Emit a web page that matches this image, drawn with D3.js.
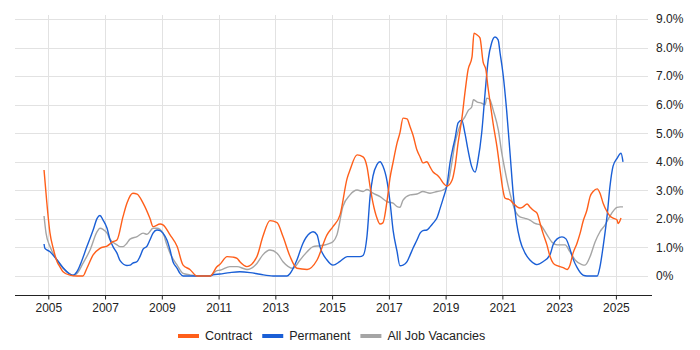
<!DOCTYPE html>
<html>
<head>
<meta charset="utf-8">
<script src="https://cdn.jsdelivr.net/npm/d3@7"></script>
<style>
  body { margin: 0; background: #fff; }
  svg { display: block; font-family: "Liberation Sans", Arial, sans-serif; }
</style>
</head>
<body>
<svg id="chart" width="700" height="350"></svg>
<script>
// rolling share of job ads, % by year (decimal years)
const contract = [[2004.85,3.71],[2004.94,2.66],[2005.06,1.5],[2005.17,0.98],[2005.31,0.5],[2005.41,0.32],[2005.52,0.15],[2005.76,0.03],[2006.01,0],[2006.22,0],[2006.36,0.27],[2006.58,0.74],[2006.82,0.97],[2007.07,1.05],[2007.28,1.2],[2007.42,1.26],[2007.63,2.07],[2007.77,2.55],[2007.98,2.9],[2008.13,2.87],[2008.34,2.55],[2008.58,2.02],[2008.69,1.73],[2008.94,1.82],[2009.04,1.79],[2009.29,1.44],[2009.54,1.03],[2009.75,0.38],[2009.99,0.23],[2010.24,0],[2010.70,0],[2010.94,0.32],[2011.05,0.41],[2011.30,0.68],[2011.51,0.66],[2011.65,0.62],[2011.75,0.5],[2012.00,0.33],[2012.35,0.68],[2012.56,1.38],[2012.81,1.94],[2013.06,1.87],[2013.27,1.38],[2013.52,0.68],[2013.76,0.27],[2014.12,0.23],[2014.47,0.56],[2014.82,1.44],[2015.03,1.73],[2015.28,2.14],[2015.53,3.42],[2015.63,3.71],[2015.88,4.24],[2016.09,4.17],[2016.23,3.82],[2016.34,3.12],[2016.44,2.56],[2016.58,2.03],[2016.69,1.82],[2016.79,1.86],[2016.94,2.66],[2017.04,3.43],[2017.15,3.99],[2017.29,4.66],[2017.39,5.01],[2017.50,5.53],[2017.64,5.5],[2017.75,5.22],[2017.85,4.94],[2017.99,4.41],[2018.10,4.17],[2018.20,3.96],[2018.34,4.0],[2018.45,3.82],[2018.56,3.64],[2018.70,3.54],[2018.80,3.43],[2018.91,3.26],[2019.05,3.15],[2019.23,3.36],[2019.33,3.82],[2019.44,4.66],[2019.58,5.57],[2019.68,6.41],[2019.79,7.22],[2019.93,7.67],[2020.00,8.5],[2020.11,8.44],[2020.21,8.34],[2020.32,7.5],[2020.42,7.22],[2020.49,6.63],[2020.57,6.06],[2020.67,5.36],[2020.81,4.52],[2020.92,3.71],[2021.02,3.01],[2021.09,2.73],[2021.27,2.66],[2021.38,2.55],[2021.52,2.42],[2021.62,2.38],[2021.73,2.42],[2021.87,2.52],[2021.97,2.42],[2022.08,2.31],[2022.22,2.2],[2022.33,1.84],[2022.43,1.5],[2022.57,1.09],[2022.68,0.68],[2022.79,0.45],[2022.93,0.36],[2023.03,0.33],[2023.14,0.29],[2023.28,0.23],[2023.38,0.38],[2023.49,0.8],[2023.63,1.15],[2023.74,1.5],[2023.84,1.9],[2023.98,2.31],[2024.09,2.78],[2024.20,2.96],[2024.34,3.05],[2024.44,2.9],[2024.55,2.55],[2024.69,2.25],[2024.79,2.1],[2024.90,2.03],[2025.04,1.96],[2025.08,1.84],[2025.18,2.03]];

const permanent = [[2004.85,1.12],[2004.88,0.97],[2005.06,0.85],[2005.31,0.56],[2005.52,0.29],[2005.76,0.07],[2005.87,0.03],[2006.01,0.15],[2006.12,0.38],[2006.36,1.03],[2006.58,1.61],[2006.72,2.02],[2006.82,2.12],[2006.93,1.96],[2007.07,1.67],[2007.17,1.29],[2007.28,1.03],[2007.42,0.8],[2007.53,0.54],[2007.77,0.37],[2007.88,0.38],[2007.98,0.45],[2008.13,0.51],[2008.23,0.68],[2008.34,0.94],[2008.48,1.05],[2008.58,1.26],[2008.69,1.5],[2008.83,1.61],[2008.94,1.59],[2009.04,1.5],[2009.18,1.26],[2009.29,0.91],[2009.39,0.51],[2009.54,0.27],[2009.64,0.09],[2009.75,0],[2010.70,0],[2010.80,0.04],[2011.05,0.07],[2011.40,0.12],[2011.75,0.15],[2012.11,0.12],[2012.46,0.06],[2012.92,0],[2013.41,0],[2013.52,0.09],[2013.76,0.56],[2013.97,1.14],[2014.22,1.5],[2014.33,1.55],[2014.47,1.44],[2014.57,1.03],[2014.82,0.56],[2015.03,0.38],[2015.28,0.51],[2015.53,0.68],[2015.98,0.68],[2016.09,0.72],[2016.23,1.4],[2016.34,2.8],[2016.44,3.5],[2016.58,3.9],[2016.69,4.0],[2016.79,3.85],[2016.94,3.3],[2017.04,2.6],[2017.15,1.6],[2017.29,0.85],[2017.39,0.36],[2017.50,0.38],[2017.64,0.5],[2017.75,0.74],[2017.85,0.97],[2017.99,1.26],[2018.10,1.5],[2018.20,1.59],[2018.34,1.61],[2018.45,1.72],[2018.56,1.85],[2018.70,2.05],[2018.80,2.35],[2018.91,2.7],[2019.05,3.2],[2019.16,4.0],[2019.26,4.5],[2019.33,4.8],[2019.44,5.36],[2019.57,5.46],[2019.68,5.0],[2019.79,4.41],[2019.92,3.83],[2020.04,3.64],[2020.14,4.06],[2020.27,5.0],[2020.39,6.4],[2020.50,7.57],[2020.62,8.16],[2020.74,8.37],[2020.85,8.27],[2020.92,7.8],[2021.02,7.1],[2021.15,5.8],[2021.27,4.3],[2021.38,2.9],[2021.50,1.86],[2021.62,1.26],[2021.80,0.8],[2021.97,0.56],[2022.15,0.42],[2022.22,0.4],[2022.43,0.5],[2022.68,0.75],[2022.79,1.1],[2022.93,1.3],[2023.10,1.37],[2023.24,1.3],[2023.38,0.95],[2023.49,0.6],[2023.63,0.3],[2023.84,0.03],[2023.98,0],[2024.34,0],[2024.44,0.33],[2024.55,1.03],[2024.70,2.2],[2024.79,3.13],[2024.90,3.85],[2025.04,4.12],[2025.18,4.3],[2025.25,4.0]];

const allJobs = [[2004.85,2.1],[2004.92,1.5],[2005.06,1.03],[2005.31,0.56],[2005.52,0.27],[2005.76,0.07],[2005.87,0.02],[2006.01,0.09],[2006.22,0.44],[2006.47,0.91],[2006.72,1.55],[2006.82,1.67],[2006.93,1.63],[2007.07,1.5],[2007.17,1.29],[2007.42,1.09],[2007.53,1.03],[2007.63,1.03],[2007.77,1.15],[2007.88,1.29],[2008.13,1.38],[2008.34,1.5],[2008.48,1.46],[2008.69,1.67],[2008.83,1.67],[2009.04,1.5],[2009.18,1.09],[2009.29,0.8],[2009.54,0.38],[2009.75,0.09],[2009.99,0.04],[2010.24,0],[2010.70,0],[2010.94,0.19],[2011.05,0.2],[2011.40,0.33],[2011.65,0.33],[2012.00,0.23],[2012.35,0.44],[2012.56,0.74],[2012.81,0.91],[2013.06,0.8],[2013.27,0.5],[2013.62,0.27],[2013.87,0.56],[2014.12,0.85],[2014.33,1.03],[2014.57,1.06],[2014.82,1.11],[2015.03,1.2],[2015.17,1.44],[2015.38,2.43],[2015.63,2.84],[2015.88,3.01],[2016.09,2.96],[2016.23,3.03],[2016.44,2.9],[2016.69,2.78],[2016.94,2.6],[2017.15,2.55],[2017.29,2.43],[2017.39,2.41],[2017.50,2.66],[2017.75,2.84],[2017.99,2.87],[2018.20,2.96],[2018.45,2.9],[2018.70,2.96],[2018.91,3.01],[2019.05,3.13],[2019.21,3.9],[2019.33,4.65],[2019.45,5.1],[2019.57,5.4],[2019.68,5.57],[2019.80,5.8],[2019.92,5.92],[2019.98,6.17],[2020.10,6.1],[2020.27,6.05],[2020.39,6.0],[2020.45,6.23],[2020.56,6.17],[2020.68,5.8],[2020.86,5.1],[2020.98,4.3],[2021.09,3.71],[2021.21,3.13],[2021.33,2.66],[2021.44,2.31],[2021.62,2.07],[2021.80,2.02],[2021.97,1.96],[2022.15,1.84],[2022.33,1.79],[2022.57,1.45],[2022.75,1.18],[2022.93,1.09],[2023.21,1.09],[2023.38,0.85],[2023.57,0.55],[2023.80,0.4],[2023.91,0.38],[2024.09,0.68],[2024.27,1.2],[2024.44,1.55],[2024.62,1.79],[2024.79,2.1],[2025.04,2.4],[2025.15,2.42],[2025.25,2.42]];

const yearTicks = [2005, 2007, 2009, 2011, 2013, 2015, 2017, 2019, 2021, 2023, 2025];
const pctTicks = [0, 1, 2, 3, 4, 5, 6, 7, 8, 9];

const series = [
    { name: 'Contract', data: contract, color: '#ff5f1a' },
    { name: 'Permanent', data: permanent, color: '#1a5fd6' },
    { name: 'All Job Vacancies', data: allJobs, color: '#a5a5a5' }
];

const svg = d3.select('#chart');
const plotL = 15, plotR = 652, plotT = 15, plotB = 295;

const x = d3.scaleLinear().domain([2005, 2025]).range([48.3, 615.9]);
const y = d3.scaleLinear().domain([0, 9]).range([276, 19]);

// grid
svg.append('g').selectAll('line').data(pctTicks).enter().append('line')
    .attr('x1', plotL).attr('x2', 648)
    .attr('y1', d => Math.round(y(d)) + 0.5).attr('y2', d => Math.round(y(d)) + 0.5)
    .attr('stroke', '#e2e2e2');
svg.append('g').selectAll('line').data(yearTicks).enter().append('line')
    .attr('x1', d => Math.round(x(d)) + 0.5).attr('x2', d => Math.round(x(d)) + 0.5)
    .attr('y1', plotT).attr('y2', plotB)
    .attr('stroke', '#e2e2e2');

// x axis
const xAxis = svg.append('g').attr('transform', `translate(0,${plotB + 0.5})`)
    .call(d3.axisBottom(x).tickValues(yearTicks).tickFormat(d3.format('d')).tickSize(4).tickSizeOuter(0).tickPadding(4));
xAxis.select('.domain').remove();
xAxis.selectAll('.tick line').attr('stroke', '#222');
xAxis.selectAll('text').attr('font-size', 12).attr('fill', '#222').attr('font-family', null);
svg.append('line').attr('x1', plotL).attr('x2', plotR)
    .attr('y1', plotB + 0.5).attr('y2', plotB + 0.5).attr('stroke', '#222');

// y axis (right)
const yAxis = svg.append('g').attr('transform', `translate(${plotR},0)`)
    .call(d3.axisRight(y).tickValues(pctTicks).tickSize(0).tickPadding(4)
        .tickFormat(d => d === 0 ? '0%' : d.toFixed(1) + '%'));
yAxis.select('.domain').remove();
yAxis.selectAll('text').attr('font-size', 12).attr('fill', '#222').attr('font-family', null);

// lines
const line = d3.line().x(d => x(d[0])).y(d => y(d[1])).curve(d3.curveMonotoneX);
svg.append('g').selectAll('path').data(series.slice().reverse()).enter().append('path')
    .attr('d', d => line(d.data))
    .attr('fill', 'none')
    .attr('stroke', d => d.color)
    .attr('stroke-width', 1.4)
    .attr('stroke-linejoin', 'round');

// legend
const legend = svg.append('g');
let lx = 178;
series.forEach(s => {
    legend.append('line').attr('x1', lx).attr('x2', lx + 21)
        .attr('y1', 336).attr('y2', 336)
        .attr('stroke', s.color).attr('stroke-width', 4);
    const t = legend.append('text').attr('x', lx + 27).attr('y', 340)
        .attr('font-size', 12.5).attr('fill', '#222').text(s.name);
    lx += 27 + t.node().getComputedTextLength() + 10;
});
</script>
</body>
</html>
